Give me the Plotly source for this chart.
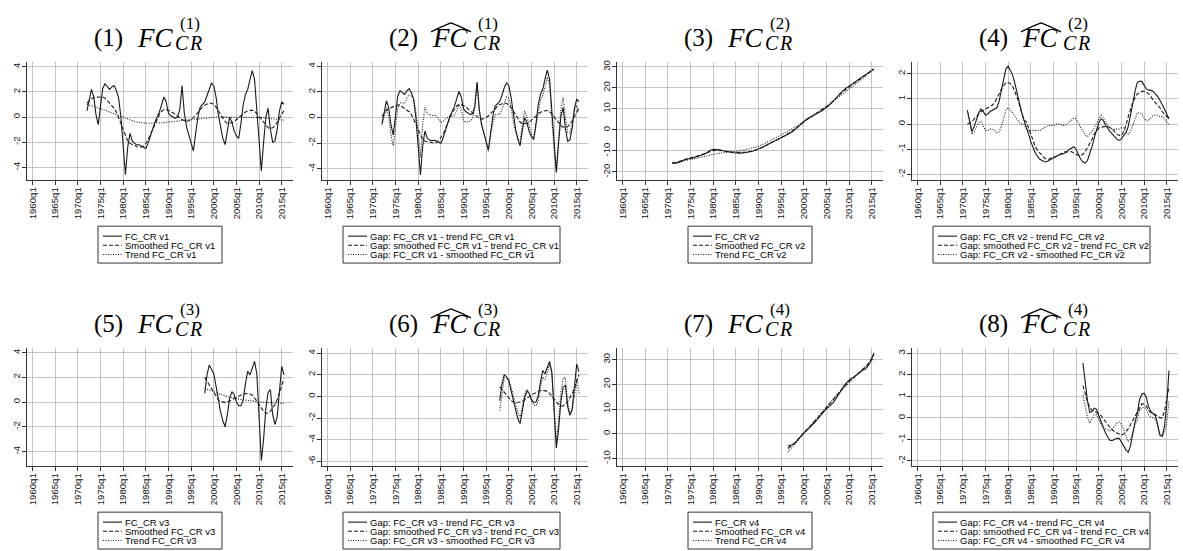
import plotly.graph_objects as go

# ---------------------------------------------------------------------------
# Data (half-yearly observations: q1 and q3 of each year)
# ---------------------------------------------------------------------------
X_TICK_YEARS = [1960, 1965, 1970, 1975, 1980, 1985, 1990, 1995, 2000, 2005, 2010, 2015]
X_TICK_LABELS = [f"{y}q1" for y in X_TICK_YEARS]

# Version 1 (from 1972q1)
V1_START = 1972.0
V1_FC = [
    0.5, 1.5, 2.2, 1.6, 0.2, -0.6, 0.9, 2.3, 2.65, 2.4, 2.2, 2.4, 2.5, 2.1, 1.5, 0.0,
    -2.3, -4.6, -2.4, -1.3, -1.9, -2.1, -2.2, -2.2, -2.3, -2.4, -2.5, -2.1, -1.5, -0.9,
    -0.4, 0.0, 0.4, 1.0, 1.6, 1.2, 0.3, 0.1, 0.0, -0.1, 0.0, 0.6, 2.5, 0.3, -0.8, -1.5,
    -2.2, -2.7, -1.3, 0.0, 0.8, 1.0, 1.2, 1.7, 2.3, 2.7, 2.5, 1.6, 0.2, -0.9, -1.7, -2.2,
    -1.0, 0.0, -0.4, -1.1, -1.5, -1.7, -0.5, 1.0, 1.8, 2.2, 3.0, 3.7, 3.0, 0.5, -2.5, -4.3,
    -2.0, 0.0, 0.7, -1.0, -2.0, -1.9, -1.0, 0.5, 1.2, 1.0,
]
V1_SMOOTH = [
    1.1, 1.3, 1.45, 1.55, 1.6, 1.6, 1.6, 1.6, 1.5, 1.3, 1.1, 0.9, 0.7, 0.4, 0.0, -0.5,
    -1.0, -1.5, -1.9, -2.1, -2.2, -2.3, -2.35, -2.4, -2.4, -2.3, -2.1, -1.8, -1.4, -0.9,
    -0.5, -0.1, 0.2, 0.45, 0.6, 0.6, 0.55, 0.45, 0.35, 0.2, 0.05, -0.1, -0.2, -0.3, -0.35,
    -0.3, -0.2, -0.05, 0.15, 0.4, 0.6, 0.8, 0.95, 1.05, 1.1, 1.1, 1.0, 0.8, 0.5, 0.2,
    -0.1, -0.35, -0.5, -0.5, -0.45, -0.35, -0.2, 0.0, 0.15, 0.3, 0.4, 0.5, 0.55, 0.55,
    0.45, 0.3, 0.05, -0.2, -0.45, -0.7, -0.85, -0.9, -0.85, -0.7, -0.45, -0.1, 0.25, 0.5,
]
V1_TREND = [
    1.0, 0.95, 0.9, 0.85, 0.8, 0.75, 0.7, 0.62, 0.55, 0.47, 0.4, 0.32, 0.25, 0.17, 0.1, 0.02,
    -0.05, -0.12, -0.2, -0.25, -0.3, -0.35, -0.4, -0.43, -0.46, -0.48, -0.5, -0.5, -0.5, -0.5,
    -0.49, -0.48, -0.47, -0.45, -0.43, -0.41, -0.39, -0.37, -0.35, -0.33, -0.31, -0.29,
    -0.27, -0.25, -0.23, -0.21, -0.19, -0.17, -0.15, -0.12, -0.1, -0.08, -0.06, -0.04,
    -0.02, 0.0, 0.0, 0.0, 0.0, 0.0, 0.0, 0.0, 0.0, 0.0, 0.0, 0.0, 0.0, 0.0, 0.0, 0.0, 0.0,
    0.0, 0.0, 0.0, 0.0, 0.0, 0.0, -0.02, -0.05, -0.08, -0.1, -0.13, -0.15, -0.18, -0.2,
    -0.22, -0.24, -0.25,
]

# Version 2 (from 1971q1): trend level and the two gaps to the trend
V2_START = 1971.0
V2_TREND = [
    -16.0, -15.75, -15.5, -15.25, -15.0, -14.75, -14.5, -14.25, -14.0, -13.75, -13.5, -13.25,
    -13.0, -12.75, -12.5, -12.25, -12.0, -11.75, -11.5, -11.35, -11.2, -11.1, -11.0, -10.9,
    -10.8, -10.7, -10.55, -10.45, -10.3, -10.1, -9.9, -9.7, -9.5, -9.25, -9.0, -8.75, -8.45,
    -8.15, -7.85, -7.4, -6.9, -6.35, -5.8, -5.25, -4.7, -4.15, -3.6, -3.05, -2.5, -1.9,
    -1.3, -0.65, 0.0, 0.6, 1.2, 1.9, 2.6, 3.3, 4.0, 4.7, 5.4, 6.1, 6.8, 7.5, 8.2, 8.95,
    9.7, 10.45, 11.2, 12.0, 12.8, 13.6, 14.4, 15.2, 16.0, 16.8, 17.6, 18.4, 19.2, 20.05,
    20.9, 21.75, 22.6, 23.5, 24.4, 25.25, 26.1, 27.0, 27.9, 28.8,
]
V2_GAP_FC = [
    0.55, 0.1, -0.3, -0.1, 0.2, 0.45, 0.6, 0.5, 0.35, 0.4, 0.5, 0.55, 0.6, 0.65, 0.9, 1.3,
    1.8, 2.2, 2.3, 2.15, 1.95, 1.6, 1.2, 0.8, 0.45, 0.15, -0.1, -0.4, -0.7, -0.95, -1.15,
    -1.3, -1.4, -1.45, -1.5, -1.5, -1.45, -1.4, -1.35, -1.3, -1.25, -1.2, -1.2, -1.15, -1.1,
    -1.0, -0.95, -0.9, -1.0, -1.2, -1.4, -1.5, -1.55, -1.45, -1.2, -0.9, -0.55, -0.2, 0.05,
    0.2, 0.15, -0.05, -0.2, -0.3, -0.4, -0.5, -0.6, -0.65, -0.6, -0.45, -0.35, -0.1, 0.3,
    0.8, 1.3, 1.65, 1.7, 1.7, 1.55, 1.4, 1.35, 1.35, 1.3, 1.2, 1.1, 0.95, 0.8, 0.6, 0.4,
    0.2,
]
V2_GAP_SMOOTH = [
    0.0, 0.05, 0.1, 0.2, 0.3, 0.4, 0.5, 0.55, 0.6, 0.65, 0.7, 0.75, 0.85, 1.0, 1.2, 1.4,
    1.55, 1.65, 1.65, 1.6, 1.5, 1.3, 1.05, 0.75, 0.45, 0.15, 0.1, -0.15, -0.45, -0.7,
    -0.9, -1.05, -1.15, -1.25, -1.35, -1.4, -1.4, -1.35, -1.3, -1.3, -1.25, -1.2, -1.15,
    -1.1, -1.1, -1.1, -1.1, -1.15, -1.2, -1.25, -1.25, -1.2, -1.1, -0.95, -0.8, -0.6, -0.4,
    -0.25, -0.15, -0.15, -0.1, -0.1, -0.1, -0.15, -0.2, -0.3, -0.4, -0.45, -0.45, -0.3,
    -0.05, 0.3, 0.6, 0.85, 1.05, 1.2, 1.25, 1.3, 1.3, 1.28, 1.2, 1.1, 0.95, 0.85, 0.75,
    0.65, 0.5, 0.4, 0.3, 0.25,
]

# Version 3 (from 1998q1)
V3_START = 1998.0
V3_FC = [
    0.7, 2.2, 3.0, 2.7, 2.3, 1.3, 0.2, -0.8, -1.5, -2.0, -1.0, 0.3, 0.85, 0.6, 0.0, -0.3,
    -0.3, 0.2, 1.5, 2.5, 2.2, 2.7, 3.3, 2.3, -1.0, -4.75, -3.0, -0.5, 0.8, 1.0, -1.0, -1.8,
    -1.2, 0.8, 2.9, 2.2,
]
V3_SMOOTH = [
    2.0, 1.7, 1.3, 1.0, 0.7, 0.4, 0.2, 0.05, 0.0, -0.02, 0.0, 0.1, 0.2, 0.3, 0.4, 0.5,
    0.55, 0.65, 0.7, 0.7, 0.65, 0.55, 0.35, 0.1, -0.2, -0.5, -0.75, -0.9, -0.9, -0.75,
    -0.5, -0.2, 0.2, 0.7, 1.3, 1.9,
]
V3_TREND = [
    1.1, 1.05, 0.98, 0.9, 0.85, 0.78, 0.7, 0.63, 0.56, 0.5, 0.45, 0.4, 0.35, 0.3, 0.27,
    0.24, 0.21, 0.18, 0.15, 0.12, 0.1, 0.08, 0.06, 0.04, 0.02, 0.0, -0.01, -0.02, -0.03,
    -0.04, -0.05, -0.06, -0.07, -0.08, -0.09, -0.1,
]

# Version 4 (from 1996q3): trend level and the two gaps to the trend
V4_START = 1996.5
V4_TREND = [
    -7.5, -6.4, -5.3, -4.2, -3.1, -2.0, -0.9, 0.2, 1.3, 2.4, 3.5, 4.6, 5.7, 6.8, 7.9, 9.0,
    10.1, 11.2, 12.2, 13.2, 14.2, 15.2, 16.1, 17.0, 17.9, 18.8, 19.7, 20.6, 21.5, 22.4,
    23.3, 24.2, 25.1, 26.0, 26.9, 27.8, 28.7, 29.6, 30.5,
]
V4_GAP_FC = [
    2.55, 1.6, 0.8, 0.25, 0.3, 0.45, 0.4, 0.1, -0.2, -0.5, -0.7, -0.9, -1.05, -1.05, -1.0,
    -0.95, -0.95, -1.1, -1.3, -1.5, -1.6, -1.3, -0.7, -0.2, 0.2, 0.85, 1.1, 1.15, 0.95, 0.5,
    0.3, 0.2, 0.1, -0.3, -0.8, -0.85, -0.4, 0.6, 2.2,
]
V4_GAP_SMOOTH = [
    1.5, 1.1, 0.75, 0.5, 0.35, 0.3, 0.25, 0.2, 0.1, -0.05, -0.2, -0.35, -0.45, -0.55,
    -0.65, -0.7, -0.75, -0.8, -0.75, -0.65, -0.5, -0.3, -0.1, 0.1, 0.3, 0.5, 0.65, 0.65,
    0.55, 0.35, 0.25, 0.2, 0.15, 0.1, 0.0, 0.0, 0.3, 0.8, 1.45,
]


def periods(start, n):
    return [start + 0.5 * i for i in range(n)]


def diff(a, b):
    return [u - v for u, v in zip(a, b)]


def add(a, b):
    return [u + v for u, v in zip(a, b)]


v1_x = periods(V1_START, len(V1_FC))
v2_x = periods(V2_START, len(V2_TREND))
v3_x = periods(V3_START, len(V3_FC))
v4_x = periods(V4_START, len(V4_TREND))

v2_fc = add(V2_TREND, V2_GAP_FC)
v2_smooth = add(V2_TREND, V2_GAP_SMOOTH)
v4_fc = add(V4_TREND, V4_GAP_FC)
v4_smooth = add(V4_TREND, V4_GAP_SMOOTH)


def level_labels(v):
    return [f"FC_CR v{v}", f"Smoothed FC_CR v{v}", f"Trend FC_CR v{v}"]


def gap_labels(v):
    return [f"Gap: FC_CR v{v} - trend FC_CR v{v}",
            f"Gap: smoothed FC_CR v{v} - trend FC_CR v{v}",
            f"Gap: FC_CR v{v} - smoothed FC_CR v{v}"]


PANELS = [
    dict(num=1, sup=1, hat=False, x=v1_x, ys=[V1_FC, V1_SMOOTH, V1_TREND],
         labels=level_labels(1), yr=[-5.04, 4.4], yt=[-4, -2, 0, 2, 4]),
    dict(num=2, sup=1, hat=True, x=v1_x,
         ys=[diff(V1_FC, V1_TREND), diff(V1_SMOOTH, V1_TREND), diff(V1_FC, V1_SMOOTH)],
         labels=gap_labels(1), yr=[-4.9, 4.35], yt=[-4, -2, 0, 2, 4]),
    dict(num=3, sup=2, hat=False, x=v2_x, ys=[v2_fc, v2_smooth, V2_TREND],
         labels=level_labels(2), yr=[-24.0, 32.4], yt=[-20, -10, 0, 10, 20, 30]),
    dict(num=4, sup=2, hat=True, x=v2_x,
         ys=[V2_GAP_FC, V2_GAP_SMOOTH, diff(V2_GAP_FC, V2_GAP_SMOOTH)],
         labels=gap_labels(2), yr=[-2.24, 2.48], yt=[-2, -1, 0, 1, 2]),
    dict(num=5, sup=3, hat=False, x=v3_x, ys=[V3_FC, V3_SMOOTH, V3_TREND],
         labels=level_labels(3), yr=[-5.2, 4.4], yt=[-4, -2, 0, 2, 4]),
    dict(num=6, sup=3, hat=True, x=v3_x,
         ys=[diff(V3_FC, V3_TREND), diff(V3_SMOOTH, V3_TREND), diff(V3_FC, V3_SMOOTH)],
         labels=gap_labels(3), yr=[-6.45, 4.5], yt=[-6, -4, -2, 0, 2, 4]),
    dict(num=7, sup=4, hat=False, x=v4_x, ys=[v4_fc, v4_smooth, V4_TREND],
         labels=level_labels(4), yr=[-13.2, 34.8], yt=[-10, 0, 10, 20, 30]),
    dict(num=8, sup=4, hat=True, x=v4_x,
         ys=[V4_GAP_FC, V4_GAP_SMOOTH, diff(V4_GAP_FC, V4_GAP_SMOOTH)],
         labels=gap_labels(4), yr=[-2.25, 3.26], yt=[-2, -1, 0, 1, 2, 3]),
]

# ---------------------------------------------------------------------------
# Layout helpers (pixel geometry -> paper coordinates)
# ---------------------------------------------------------------------------
W, H = 1183, 551
CELL_W = 295
ROW_OFF = 287
PLOT_X0, PLOT_X1 = 27, 293
PLOT_Y0, PLOT_Y1 = 60, 179

DASHES = ["solid", "4px,2px", "1px,1.5px"]
INK = "#1a1a1a"
AXIS = "#333333"
GRID = "#c4c4c4"
SANS = "Liberation Sans, Arial, sans-serif"
SERIF = "Liberation Serif, Times New Roman, serif"


def fx(x):
    return x / W


def fy(y):
    return 1 - y / H


def text_note(text, x, y, size, family=SERIF, xanchor="left"):
    return dict(text=text, x=fx(x), y=fy(y), xref="paper", yref="paper",
                xanchor=xanchor, yanchor="middle", showarrow=False,
                font=dict(family=family, size=size, color="black"))


fig = go.Figure()
annotations = []
shapes = []
layout_axes = {}

for i, p in enumerate(PANELS):
    k = i + 1
    col, row = i % 4, i // 4
    ox, oy = CELL_W * col, ROW_OFF * row
    xa = "x" if k == 1 else f"x{k}"
    ya = "y" if k == 1 else f"y{k}"
    xname = "xaxis" if k == 1 else f"xaxis{k}"
    yname = "yaxis" if k == 1 else f"yaxis{k}"

    for y, dash, label in zip(p["ys"], DASHES, p["labels"]):
        fig.add_trace(go.Scatter(
            x=p["x"], y=y, mode="lines", name=label, showlegend=False,
            line=dict(color=INK, width=1.1, dash=dash),
            xaxis=xa, yaxis=ya,
        ))

    axis_common = dict(
        tickmode="array", tickangle=-90,
        ticks="outside", ticklen=4, tickcolor=AXIS, tickwidth=1,
        showline=True, linecolor=AXIS, linewidth=1.2,
        showgrid=True, gridcolor=GRID, gridwidth=1, zeroline=False,
        tickfont=dict(family=SANS, size=9.6, color="#111111"),
    )
    layout_axes[xname] = dict(
        domain=[fx(ox + PLOT_X0), fx(ox + PLOT_X1)], anchor=ya,
        range=[1958.77, 2017.49], tickvals=X_TICK_YEARS, ticktext=X_TICK_LABELS,
        ticklabelstandoff=-2, **axis_common,
    )
    layout_axes[yname] = dict(
        domain=[fy(oy + PLOT_Y1), fy(oy + PLOT_Y0)], anchor=xa,
        range=p["yr"], tickvals=p["yt"], ticktext=[str(v) for v in p["yt"]],
        ticklabelstandoff=-2, **axis_common,
    )

    # Panel title: (n) FC with CR subscript and (k) superscript
    dx = 3 if p["hat"] else 0
    annotations += [
        text_note(f"({p['num']})", ox + 92, oy + 36, 25),
        text_note("<i>FC</i>", ox + 135, oy + 36, 27),
        text_note("<i>C\u200aR</i>", ox + 173 + dx, oy + 41, 20),
        text_note(f"({p['sup']})", ox + 178 + dx, oy + 22, 17),
    ]
    if p["hat"]:
        hx0, hx1, hxm = ox + 136, ox + 176, ox + 156
        shapes.append(dict(
            type="path", xref="paper", yref="paper",
            path=(f"M {fx(hx0)},{fy(oy + 30)} Q {fx(hxm - 8)},{fy(oy + 24)} {fx(hxm)},{fy(oy + 21)}"
                  f" Q {fx(hxm + 8)},{fy(oy + 24)} {fx(hx1)},{fy(oy + 30)}"),
            line=dict(color="black", width=1.2),
        ))

    # Legend box below each panel
    if p["hat"]:
        bx0, bx1 = ox + 48, ox + 265
    else:
        bx0, bx1 = ox + 98, ox + 222
    by0, by1 = oy + 225, oy + 262
    shapes.append(dict(type="rect", xref="paper", yref="paper",
                       x0=fx(bx0), x1=fx(bx1), y0=fy(by1), y1=fy(by0),
                       line=dict(color="#333333", width=1), fillcolor="white"))
    for j, (dash, label) in enumerate(zip(DASHES, p["labels"])):
        ry = oy + 235 + 9.2 * j
        shapes.append(dict(type="line", xref="paper", yref="paper",
                           x0=fx(bx0 + 5), x1=fx(bx0 + 24), y0=fy(ry), y1=fy(ry),
                           line=dict(color=INK, width=1.1, dash=dash)))
        annotations.append(text_note(label, bx0 + 25, ry, 9.5, family=SANS))

fig.update_layout(
    width=W, height=H, autosize=False,
    margin=dict(l=0, r=0, t=0, b=0),
    paper_bgcolor="white", plot_bgcolor="white",
    showlegend=False,
    annotations=annotations, shapes=shapes,
    **layout_axes,
)

fig.write_html("out.html")
